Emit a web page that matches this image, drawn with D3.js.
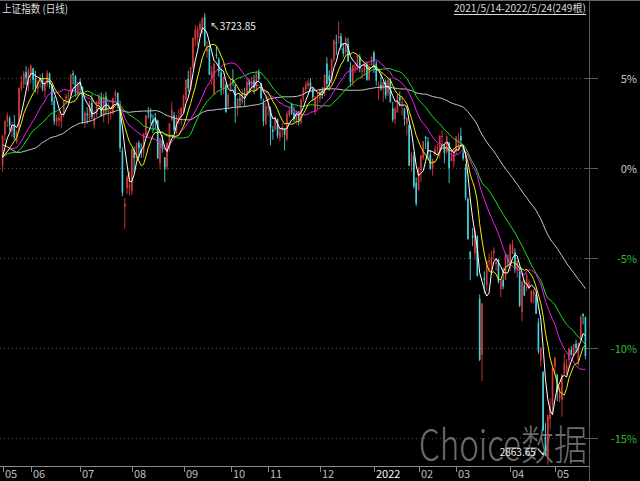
<!DOCTYPE html>
<html>
<head>
<meta charset="utf-8">
<script src="https://cdn.jsdelivr.net/npm/d3@7"></script>
<style>
html, body { margin: 0; padding: 0; background: #000; }
svg { display: block; }
text { font-family: "Noto Sans CJK SC", "Noto Sans", "DejaVu Sans", sans-serif; }
</style>
</head>
<body>
<div id="chart"></div>
<script>
// 上证指数 daily bars, 2021/5/14 - 2022/5/24
var title = '上证指数 (日线)'
var prevClose = 3429.54   // close before the first bar = 0%
var pctTicks = [5, 0, -5, -10, -15]
var maPeriods = [60, 30, 20, 10, 5]
var maColors = ['#c8c8c8', '#1ee01e', '#f020f0', '#f0f000', '#ffffff']

var dates = [
  '2021-05-14','2021-05-17','2021-05-18','2021-05-19','2021-05-20','2021-05-21','2021-05-24','2021-05-25','2021-05-26','2021-05-27','2021-05-28','2021-05-31',
  '2021-06-01','2021-06-02','2021-06-03','2021-06-04','2021-06-07','2021-06-08','2021-06-09','2021-06-10','2021-06-11','2021-06-15','2021-06-16','2021-06-17','2021-06-18','2021-06-21','2021-06-22','2021-06-23','2021-06-24','2021-06-25','2021-06-28','2021-06-29','2021-06-30',
  '2021-07-01','2021-07-02','2021-07-05','2021-07-06','2021-07-07','2021-07-08','2021-07-09','2021-07-12','2021-07-13','2021-07-14','2021-07-15','2021-07-16','2021-07-19','2021-07-20','2021-07-21','2021-07-22','2021-07-23','2021-07-26','2021-07-27','2021-07-28','2021-07-29','2021-07-30',
  '2021-08-02','2021-08-03','2021-08-04','2021-08-05','2021-08-06','2021-08-09','2021-08-10','2021-08-11','2021-08-12','2021-08-13','2021-08-16','2021-08-17','2021-08-18','2021-08-19','2021-08-20','2021-08-23','2021-08-24','2021-08-25','2021-08-26','2021-08-27','2021-08-30','2021-08-31',
  '2021-09-01','2021-09-02','2021-09-03','2021-09-06','2021-09-07','2021-09-08','2021-09-09','2021-09-10','2021-09-13','2021-09-14','2021-09-15','2021-09-16','2021-09-17','2021-09-22','2021-09-23','2021-09-24','2021-09-27','2021-09-28','2021-09-29','2021-09-30',
  '2021-10-08','2021-10-11','2021-10-12','2021-10-13','2021-10-14','2021-10-15','2021-10-18','2021-10-19','2021-10-20','2021-10-21','2021-10-22','2021-10-25','2021-10-26','2021-10-27','2021-10-28','2021-10-29',
  '2021-11-01','2021-11-02','2021-11-03','2021-11-04','2021-11-05','2021-11-08','2021-11-09','2021-11-10','2021-11-11','2021-11-12','2021-11-15','2021-11-16','2021-11-17','2021-11-18','2021-11-19','2021-11-22','2021-11-23','2021-11-24','2021-11-25','2021-11-26','2021-11-29','2021-11-30',
  '2021-12-01','2021-12-02','2021-12-03','2021-12-06','2021-12-07','2021-12-08','2021-12-09','2021-12-10','2021-12-13','2021-12-14','2021-12-15','2021-12-16','2021-12-17','2021-12-20','2021-12-21','2021-12-22','2021-12-23','2021-12-24','2021-12-27','2021-12-28','2021-12-29','2021-12-30','2021-12-31',
  '2022-01-04','2022-01-05','2022-01-06','2022-01-07','2022-01-10','2022-01-11','2022-01-12','2022-01-13','2022-01-14','2022-01-17','2022-01-18','2022-01-19','2022-01-20','2022-01-21','2022-01-24','2022-01-25','2022-01-26','2022-01-27','2022-01-28',
  '2022-02-07','2022-02-08','2022-02-09','2022-02-10','2022-02-11','2022-02-14','2022-02-15','2022-02-16','2022-02-17','2022-02-18','2022-02-21','2022-02-22','2022-02-23','2022-02-24','2022-02-25','2022-02-28',
  '2022-03-01','2022-03-02','2022-03-03','2022-03-04','2022-03-07','2022-03-08','2022-03-09','2022-03-10','2022-03-11','2022-03-14','2022-03-15','2022-03-16','2022-03-17','2022-03-18','2022-03-21','2022-03-22','2022-03-23','2022-03-24','2022-03-25','2022-03-28','2022-03-29','2022-03-30','2022-03-31',
  '2022-04-01','2022-04-06','2022-04-07','2022-04-08','2022-04-11','2022-04-12','2022-04-13','2022-04-14','2022-04-15','2022-04-18','2022-04-19','2022-04-20','2022-04-21','2022-04-22','2022-04-25','2022-04-26','2022-04-27','2022-04-28','2022-04-29',
  '2022-05-05','2022-05-06','2022-05-09','2022-05-10','2022-05-11','2022-05-12','2022-05-13','2022-05-16','2022-05-17','2022-05-18','2022-05-19','2022-05-20','2022-05-23','2022-05-24'
]

var opens = [
  3434,3493,3518,3524,3500,3511,3479,3502,3580,3589,3612,3587,
  3608,3619,3600,3580,3597,3599,3576,3591,3609,3585,3557,3516,3520,3518,3531,3560,3565,3570,3609,3604,3570,
  3592,3583,3518,3532,3524,3553,3510,3530,3551,3564,3527,3565,3536,3534,3535,3565,3572,3550,3462,3355,3391,3391,
  3385,3464,3447,3477,3465,3458,3492,3535,3532,3519,3521,3519,3438,3482,3449,3431,3471,3521,3529,3496,3526,3527,
  3536,3561,3599,3579,3621,3674,3678,3693,3696,3716,3651,3656,3601,3569,3646,3636,3611,3580,3588,3547,
  3577,3595,3586,3543,3561,3554,3570,3570,3595,3586,3596,3577,3612,3590,3553,3513,
  3545,3541,3502,3503,3522,3487,3500,3503,3484,3530,3551,3534,3520,3537,3516,3560,3579,3586,3592,3580,3537,3561,
  3561,3576,3571,3628,3605,3596,3636,3668,3676,3680,3657,3650,3666,3621,3591,3622,3622,3641,3613,3613,3627,3597,3625,
  3649,3628,3581,3588,3580,3592,3571,3596,3543,3522,3535,3564,3553,3541,3513,3511,3440,3451,3401,
  3387,3424,3448,3488,3479,3454,3427,3455,3467,3457,3488,3473,3460,3478,3442,3441,
  3461,3478,3490,3458,3430,3370,3269,3300,3267,3299,3180,3073,3219,3206,3250,3245,3266,3246,3254,3198,3216,3216,3254,
  3245,3265,3268,3234,3233,3154,3205,3200,3199,3173,3186,3188,3135,3062,3040,2917,2878,2951,2977,
  3050,3035,2990,2987,3037,3040,3063,3083,3071,3094,3062,3101,3151,3145
]

var highs = [
  3492,3520,3535,3528,3517,3530,3501,3583,3605,3614,3623,3620,
  3626,3620,3614,3596,3608,3610,3595,3615,3611,3589,3565,3531,3536,3532,3558,3571,3575,3608,3615,3606,3593,
  3600,3584,3538,3545,3557,3569,3539,3557,3571,3573,3570,3574,3553,3545,3563,3578,3573,3557,3468,3372,3415,3423,
  3466,3470,3478,3481,3476,3495,3530,3545,3543,3531,3534,3521,3486,3492,3450,3478,3515,3555,3536,3530,3542,3544,
  3569,3598,3614,3621,3677,3702,3699,3709,3716,3723.85,3671,3671,3623,3629,3662,3640,3620,3603,3590,3572,
  3599,3617,3589,3563,3570,3579,3582,3602,3598,3603,3606,3614,3617,3591,3561,3554,
  3566,3546,3509,3528,3523,3504,3515,3505,3537,3546,3553,3546,3539,3538,3561,3583,3594,3597,3600,3584,3566,3572,
  3580,3583,3607,3640,3615,3637,3674,3683,3708,3686,3667,3679,3677,3631,3626,3629,3646,3646,3620,3631,3632,3628,3642,
  3652,3633,3594,3608,3593,3597,3600,3601,3555,3546,3570,3575,3566,3544,3526,3512,3460,3459,3411,
  3430,3454,3480,3490,3488,3463,3447,3472,3475,3491,3501,3475,3491,3478,3464,3467,
  3490,3495,3506,3470,3437,3373,3271,3315,3313,3301,3188,3171,3232,3253,3266,3271,3278,3255,3256,3218,3239,3266,3264,
  3285,3292,3276,3253,3241,3213,3216,3229,3217,3196,3198,3190,3143,3087,3042,2943,2959,2990,3048,
  3069,3037,3013,3036,3075,3065,3087,3090,3093,3102,3096,3148,3152,3146
]

var lows = [
  3422,3481,3507,3500,3488,3483,3475,3497,3575,3581,3587,3575,
  3590,3577,3573,3569,3582,3575,3563,3584,3580,3549,3511,3509,3507,3505,3525,3550,3553,3565,3588,3565,3566,
  3571,3513,3505,3513,3517,3522,3504,3526,3541,3527,3516,3531,3513,3521,3530,3556,3542,3460,3375,3313,3379,3377,
  3378,3420,3436,3450,3448,3449,3489,3523,3513,3495,3503,3447,3426,3458,3402,3425,3461,3518,3496,3494,3513,3510,
  3533,3556,3574,3576,3617,3660,3662,3678,3684,3660,3639,3606,3587,3569,3637,3603,3568,3570,3534,3541,
  3577,3585,3515,3527,3545,3550,3547,3566,3573,3579,3570,3576,3595,3557,3509,3510,
  3528,3472,3483,3500,3485,3480,3488,3462,3480,3525,3530,3516,3512,3510,3512,3555,3571,3579,3576,3557,3530,3541,
  3553,3561,3566,3580,3576,3590,3630,3644,3666,3654,3641,3645,3631,3584,3585,3610,3615,3611,3598,3605,3595,3595,3624,
  3610,3586,3559,3576,3555,3561,3566,3553,3516,3512,3535,3546,3529,3510,3491,3433,3422,3390,3356,
  3386,3402,3444,3465,3445,3425,3414,3452,3457,3447,3471,3438,3456,3400,3442,3430,
  3455,3464,3475,3443,3367,3292,3215,3280,3253,3223,3061,3023,3190,3194,3231,3229,3254,3233,3209,3183,3198,3216,3240,
  3233,3265,3229,3220,3164,3137,3185,3194,3197,3172,3171,3151,3075,3051,2928,2880,2863.65,2931,2962,
  3035,2985,2983,2955,3035,3035,3045,3071,3070,3077,3052,3101,3131,3065
]

var closes = [
  3490,3518,3529,3510,3507,3487,3497,3581,3593,3609,3600,3615,
  3624,3597,3584,3592,3599,3580,3591,3610,3589,3556,3518,3525,3525,3529,3557,3566,3567,3607,3606,3573,3591,
  3588,3518,3534,3530,3553,3526,3524,3547,3567,3529,3564,3539,3539,3537,3562,3574,3550,3467,3382,3361,3411,3397,
  3465,3448,3477,3467,3458,3495,3530,3533,3525,3516,3517,3447,3485,3466,3427,3477,3514,3540,3502,3522,3528,3544,
  3567,3597,3581,3621,3677,3693,3693,3703,3715,3662,3656,3607,3613,3628,3643,3613,3582,3602,3536,3568,
  3592,3591,3547,3561,3558,3572,3568,3593,3587,3594,3582,3609,3598,3562,3518,3547,
  3545,3506,3498,3526,3491,3498,3507,3492,3532,3539,3533,3522,3537,3520,3560,3582,3589,3592,3584,3564,3562,3564,
  3577,3573,3607,3589,3595,3637,3673,3666,3681,3661,3647,3676,3632,3593,3625,3622,3643,3618,3615,3630,3597,3620,3640,
  3632,3595,3586,3580,3593,3567,3597,3555,3521,3541,3569,3558,3555,3522,3524,3433,3455,3394,3361,
  3430,3453,3480,3485,3462,3428,3446,3465,3468,3491,3490,3457,3489,3429,3451,3462,
  3488,3484,3481,3447,3372,3294,3256,3296,3309,3223,3064,3171,3216,3251,3253,3259,3271,3250,3212,3214,3203,3266,3252,
  3283,3283,3236,3252,3167,3213,3186,3225,3211,3195,3194,3151,3079,3087,2929,2886,2958,2975,3047,
  3068,3002,3004,3036,3058,3054,3084,3073,3093,3086,3096,3146,3147,3071
]

// closes before the window, only used so the moving averages start at the left edge
var priorCloses = [
  3603,3655,3675,3697,3642,3636,3564,3585,3509,
  3551,3508,3577,3503,3502,3421,3360,3357,3436,3454,3419,3446,3445,3463,3405,3443,3412,3367,3363,3418,3435,3457,3441,
  3466,3484,3482,3479,3482,3451,3412,3397,3416,3399,3427,3477,3473,3473,3465,3474,3441,3442,3457,3474,3447,
  3441,3419,3428,3441,3462,3430
]

var n = dates.length
if (opens.length !== n || highs.length !== n || lows.length !== n || closes.length !== n) {
  throw new Error('length mismatch ' + [n, opens.length, highs.length, lows.length, closes.length].join(','))
}

var width = 640
var height = 481
var plotRight = 589
var plotBottom = 467

var svg = d3.select('#chart').append('svg')
  .attr('width', width)
  .attr('height', height)

svg.append('rect').attr('width', width).attr('height', height).attr('fill', '#000')

// scales
var x = d3.scaleBand().domain(d3.range(n)).range([1.4, 586.6])
function cx(i) { return x(i) + x.bandwidth() / 2 }

var y = d3.scaleLinear()
  .domain([prevClose * 0.85, prevClose * 1.05])
  .range([437.7, 77.7])

// clip for the plot
svg.append('clipPath').attr('id', 'plot')
  .append('rect').attr('x', 0).attr('y', 1).attr('width', plotRight).attr('height', plotBottom - 1)

// grid lines at percent levels
var grid = svg.append('g')
pctTicks.forEach(function (p) {
  var yy = Math.round(y(prevClose * (1 + p / 100))) + 0.5
  grid.append('line')
    .attr('x1', 0).attr('x2', plotRight - 4)
    .attr('y1', yy).attr('y2', yy)
    .attr('stroke', '#4a4a4a')
    .attr('stroke-dasharray', '1,3')
  grid.append('line')
    .attr('x1', plotRight - 5).attr('x2', 598)
    .attr('y1', yy).attr('y2', yy)
    .attr('stroke', '#5a5a5a')
  grid.append('text')
    .attr('x', 637).attr('y', yy + 4)
    .attr('text-anchor', 'end')
    .attr('font-size', 11)
    .attr('fill', p < 0 ? '#2fb82f' : '#c8c8c8')
    .text(p + '%')
})

// watermark, stretched a little upward
svg.append('text')
  .attr('transform', 'translate(419,460) scale(1,1.22)')
  .attr('font-size', 34)
  .attr('font-weight', 300)
  .attr('textLength', 168)
  .attr('lengthAdjust', 'spacingAndGlyphs')
  .attr('fill', '#6c6c6c')
  .text('Choice数据')

// candles
var bars = svg.append('g').attr('clip-path', 'url(#plot)')
var upColor = '#d23a3a'
var downColor = '#46d2de'

bars.selectAll('line.wick')
  .data(d3.range(n))
  .enter()
  .append('line')
  .attr('class', 'wick')
  .attr('x1', function (i) { return cx(i) }).attr('x2', function (i) { return cx(i) })
  .attr('y1', function (i) { return y(highs[i]) })
  .attr('y2', function (i) { return y(lows[i]) })
  .attr('stroke', function (i) { return closes[i] >= opens[i] ? upColor : downColor })
  .attr('stroke-width', 0.9)

bars.selectAll('rect.body')
  .data(d3.range(n))
  .enter()
  .append('rect')
  .attr('class', 'body')
  .attr('x', function (i) { return cx(i) - 0.8 })
  .attr('width', 1.6)
  .attr('y', function (i) { return y(Math.max(opens[i], closes[i])) })
  .attr('height', function (i) { return Math.max(1, Math.abs(y(opens[i]) - y(closes[i]))) })
  .attr('fill', function (i) { return closes[i] >= opens[i] ? upColor : downColor })

// moving averages
var all = priorCloses.concat(closes)
var off = priorCloses.length
function movingAverage(period) {
  return closes.map(function (c, i) {
    return d3.mean(all.slice(i + off - period + 1, i + off + 1))
  })
}

var line = d3.line()
  .x(function (d, i) { return cx(i) })
  .y(function (d) { return y(d) })

var maGroup = svg.append('g').attr('clip-path', 'url(#plot)')
maPeriods.forEach(function (p, k) {
  maGroup.append('path')
    .datum(movingAverage(p))
    .attr('d', line)
    .attr('fill', 'none')
    .attr('stroke', maColors[k])
    .attr('stroke-width', 1)
})

// high / low marks
var iHigh = d3.maxIndex(highs)
var iLow = d3.minIndex(lows)
svg.append('text')
  .attr('x', cx(iHigh) + 5).attr('y', y(highs[iHigh]) + 17)
  .attr('font-size', 10)
  .attr('fill', '#f0f0f0')
  .text('↖' + d3.format('.2f')(highs[iHigh]))
svg.append('text')
  .attr('x', cx(iLow) - 2).attr('y', y(lows[iLow]) - 9)
  .attr('text-anchor', 'end')
  .attr('font-size', 10)
  .attr('fill', '#f0f0f0')
  .text(d3.format('.2f')(lows[iLow]) + '↘')

// frame
svg.append('line')
  .attr('x1', 0).attr('x2', width).attr('y1', 0.5).attr('y2', 0.5)
  .attr('stroke', '#666')
svg.append('line')
  .attr('x1', plotRight + 0.5).attr('x2', plotRight + 0.5).attr('y1', 0).attr('y2', height)
  .attr('stroke', '#5a5a5a')
svg.append('line')
  .attr('x1', 0).attr('x2', plotRight).attr('y1', plotBottom - 0.5).attr('y2', plotBottom - 0.5)
  .attr('stroke', '#8a8a8a')

// month ticks
var monthStarts = d3.range(n).filter(function (i) {
  return i === 0 || dates[i].slice(0, 7) !== dates[i - 1].slice(0, 7)
})
var xAxis = svg.append('g')
monthStarts.forEach(function (i) {
  var xx = Math.round(cx(i)) + 0.5
  var mm = dates[i].slice(5, 7)
  var isYear = mm === '01'
  xAxis.append('line')
    .attr('x1', xx).attr('x2', xx)
    .attr('y1', plotBottom).attr('y2', plotBottom + 5)
    .attr('stroke', '#8a8a8a')
  xAxis.append('text')
    .attr('x', xx + 1.5).attr('y', 478)
    .attr('font-size', 11)
    .attr('fill', isYear ? '#f4f4f4' : '#bdbdbd')
    .text(isYear ? dates[i].slice(0, 4) : mm)
})

// titles
svg.append('text')
  .attr('x', 2).attr('y', 13)
  .attr('font-size', 11)
  .attr('textLength', 66)
  .attr('lengthAdjust', 'spacingAndGlyphs')
  .attr('fill', '#dcdcdc')
  .text(title)

function shortDate(s) {
  var p = s.split('-')
  return p[0] + '/' + (+p[1]) + '/' + (+p[2])
}
var range = svg.append('text')
  .attr('x', 586).attr('y', 12)
  .attr('text-anchor', 'end')
  .attr('font-size', 10.5)
  .attr('textLength', 132)
  .attr('lengthAdjust', 'spacingAndGlyphs')
  .attr('fill', '#d8d8d8')
  .text(shortDate(dates[0]) + '-' + shortDate(dates[n - 1]) + '(' + n + '根)')
var bb = range.node().getBBox()
svg.append('line')
  .attr('x1', bb.x).attr('x2', bb.x + bb.width)
  .attr('y1', 14.5).attr('y2', 14.5)
  .attr('stroke', '#d8d8d8')
</script>
</body>
</html>
